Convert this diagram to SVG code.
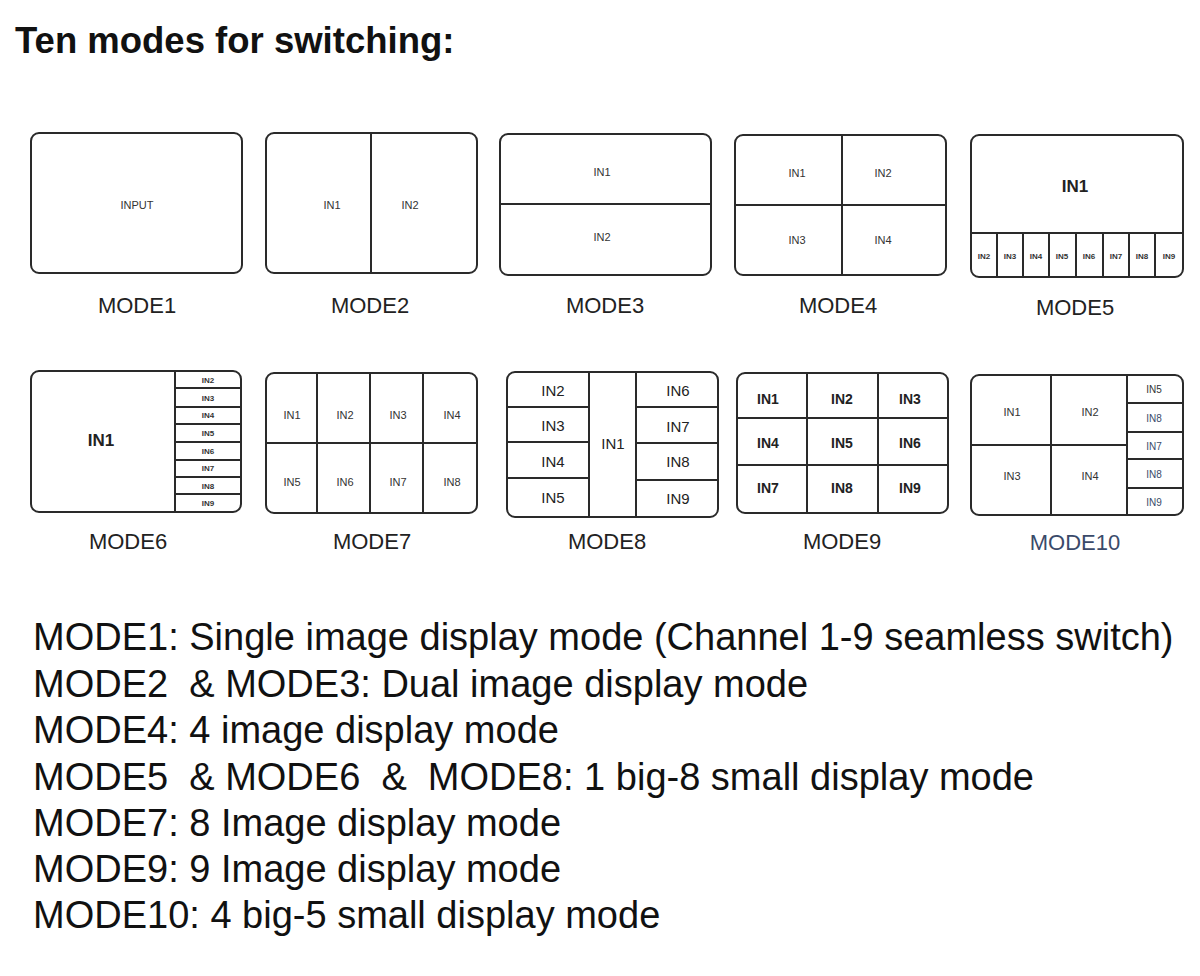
<svg xmlns="http://www.w3.org/2000/svg" width="1200" height="976" viewBox="0 0 1200 976">
<style>
text{font-family:"Liberation Sans",Arial,sans-serif;fill:#111}
.frame{fill:#fff;stroke:#2a2a2a;stroke-width:2}
.div{stroke:#2a2a2a;stroke-width:2;fill:none}
.t{font-size:11px;text-anchor:middle;dominant-baseline:central;fill:#333}
.tiny{font-size:8px;text-anchor:middle;dominant-baseline:central;fill:#333;font-weight:bold}
.mid{font-size:15px;text-anchor:middle;dominant-baseline:central;fill:#222}
.big{font-size:17px;text-anchor:middle;dominant-baseline:central;fill:#222;font-weight:bold}
.lbl{font-size:22px;text-anchor:middle;fill:#222}
.body{font-size:38px;fill:#111;white-space:pre}
.title{font-size:36.5px;font-weight:bold;fill:#111}
.blue{fill:#3a4a6a}
</style>
<rect width="1200" height="976" fill="#fff"/>
<text class="title" x="15" y="53">Ten modes for switching:</text>

<g id="mode1">
<rect class="frame" x="31" y="133" width="211" height="140" rx="8"/>
<text class="t" x="137" y="205">INPUT</text>
<text class="lbl" x="137" y="313">MODE1</text>
</g>

<g id="mode2">
<rect class="frame" x="266" y="133" width="211" height="140" rx="8"/>
<line class="div" x1="371" y1="133" x2="371" y2="273"/>
<text class="t" x="332" y="205">IN1</text>
<text class="t" x="410" y="205">IN2</text>
<text class="lbl" x="370" y="313">MODE2</text>
</g>

<g id="mode3">
<rect class="frame" x="500" y="134" width="211" height="141" rx="8"/>
<line class="div" x1="500" y1="204" x2="711" y2="204"/>
<text class="t" x="602" y="172">IN1</text>
<text class="t" x="602" y="237">IN2</text>
<text class="lbl" x="605" y="313">MODE3</text>
</g>

<g id="mode4">
<rect class="frame" x="735" y="135" width="211" height="140" rx="8"/>
<line class="div" x1="842" y1="135" x2="842" y2="275"/>
<line class="div" x1="735" y1="205" x2="946" y2="205"/>
<text class="t" x="797" y="173">IN1</text>
<text class="t" x="883" y="173">IN2</text>
<text class="t" x="797" y="240">IN3</text>
<text class="t" x="883" y="240">IN4</text>
<text class="lbl" x="838" y="313">MODE4</text>
</g>

<g id="mode5">
<rect class="frame" x="971" y="135" width="212" height="142" rx="8"/>
<line class="div" x1="971" y1="233" x2="1183" y2="233"/>
<line class="div" x1="997" y1="233" x2="997" y2="277"/>
<line class="div" x1="1023" y1="233" x2="1023" y2="277"/>
<line class="div" x1="1049" y1="233" x2="1049" y2="277"/>
<line class="div" x1="1076" y1="233" x2="1076" y2="277"/>
<line class="div" x1="1103" y1="233" x2="1103" y2="277"/>
<line class="div" x1="1129" y1="233" x2="1129" y2="277"/>
<line class="div" x1="1155" y1="233" x2="1155" y2="277"/>
<text class="big" x="1075" y="186">IN1</text>
<text class="tiny" x="984" y="256">IN2</text>
<text class="tiny" x="1010" y="256">IN3</text>
<text class="tiny" x="1036" y="256">IN4</text>
<text class="tiny" x="1062" y="256">IN5</text>
<text class="tiny" x="1089" y="256">IN6</text>
<text class="tiny" x="1116" y="256">IN7</text>
<text class="tiny" x="1142" y="256">IN8</text>
<text class="tiny" x="1169" y="256">IN9</text>
<text class="lbl" x="1075" y="315">MODE5</text>
</g>

<g id="mode6">
<rect class="frame" x="31" y="371" width="210" height="141" rx="8"/>
<line class="div" x1="175" y1="371" x2="175" y2="512"/>
<line class="div" x1="175" y1="388" x2="241" y2="388"/>
<line class="div" x1="175" y1="407" x2="241" y2="407"/>
<line class="div" x1="175" y1="424" x2="241" y2="424"/>
<line class="div" x1="175" y1="442" x2="241" y2="442"/>
<line class="div" x1="175" y1="460" x2="241" y2="460"/>
<line class="div" x1="175" y1="477" x2="241" y2="477"/>
<line class="div" x1="175" y1="494" x2="241" y2="494"/>
<text class="big" x="101" y="440">IN1</text>
<text class="tiny" x="208" y="380">IN2</text>
<text class="tiny" x="208" y="398">IN3</text>
<text class="tiny" x="208" y="415">IN4</text>
<text class="tiny" x="208" y="433">IN5</text>
<text class="tiny" x="208" y="451">IN6</text>
<text class="tiny" x="208" y="468">IN7</text>
<text class="tiny" x="208" y="486">IN8</text>
<text class="tiny" x="208" y="503">IN9</text>
<text class="lbl" x="128" y="549">MODE6</text>
</g>

<g id="mode7">
<rect class="frame" x="266" y="373" width="211" height="140" rx="8"/>
<line class="div" x1="317" y1="373" x2="317" y2="513"/>
<line class="div" x1="370" y1="373" x2="370" y2="513"/>
<line class="div" x1="423" y1="373" x2="423" y2="513"/>
<line class="div" x1="266" y1="443" x2="477" y2="443"/>
<text class="t" x="292" y="415">IN1</text>
<text class="t" x="345" y="415">IN2</text>
<text class="t" x="398" y="415">IN3</text>
<text class="t" x="452" y="415">IN4</text>
<text class="t" x="292" y="482">IN5</text>
<text class="t" x="345" y="482">IN6</text>
<text class="t" x="398" y="482">IN7</text>
<text class="t" x="452" y="482">IN8</text>
<text class="lbl" x="372" y="549">MODE7</text>
</g>

<g id="mode8">
<rect class="frame" x="507" y="372" width="211" height="145" rx="8"/>
<line class="div" x1="589" y1="372" x2="589" y2="517"/>
<line class="div" x1="636" y1="372" x2="636" y2="517"/>
<line class="div" x1="507" y1="407" x2="589" y2="407"/>
<line class="div" x1="507" y1="442" x2="589" y2="442"/>
<line class="div" x1="507" y1="478" x2="589" y2="478"/>
<line class="div" x1="636" y1="407" x2="718" y2="407"/>
<line class="div" x1="636" y1="443" x2="718" y2="443"/>
<line class="div" x1="636" y1="480" x2="718" y2="480"/>
<text class="mid" x="553" y="390">IN2</text>
<text class="mid" x="553" y="425">IN3</text>
<text class="mid" x="553" y="461">IN4</text>
<text class="mid" x="553" y="497">IN5</text>
<text class="mid" x="613" y="443">IN1</text>
<text class="mid" x="678" y="390">IN6</text>
<text class="mid" x="678" y="426">IN7</text>
<text class="mid" x="678" y="461">IN8</text>
<text class="mid" x="678" y="498">IN9</text>
<text class="lbl" x="607" y="549">MODE8</text>
</g>

<g id="mode9">
<rect class="frame" x="737" y="373" width="211" height="140" rx="8"/>
<line class="div" x1="807" y1="373" x2="807" y2="513"/>
<line class="div" x1="878" y1="373" x2="878" y2="513"/>
<line class="div" x1="737" y1="418" x2="948" y2="418"/>
<line class="div" x1="737" y1="465" x2="948" y2="465"/>
<text class="mid" x="768" y="399" style="font-size:14px;font-weight:bold">IN1</text>
<text class="mid" x="842" y="399" style="font-size:14px;font-weight:bold">IN2</text>
<text class="mid" x="910" y="399" style="font-size:14px;font-weight:bold">IN3</text>
<text class="mid" x="768" y="443" style="font-size:14px;font-weight:bold">IN4</text>
<text class="mid" x="842" y="443" style="font-size:14px;font-weight:bold">IN5</text>
<text class="mid" x="910" y="443" style="font-size:14px;font-weight:bold">IN6</text>
<text class="mid" x="768" y="488" style="font-size:14px;font-weight:bold">IN7</text>
<text class="mid" x="842" y="488" style="font-size:14px;font-weight:bold">IN8</text>
<text class="mid" x="910" y="488" style="font-size:14px;font-weight:bold">IN9</text>
<text class="lbl" x="842" y="549">MODE9</text>
</g>

<g id="mode10">
<rect class="frame" x="971" y="375" width="212" height="140" rx="8"/>
<line class="div" x1="1051" y1="375" x2="1051" y2="515"/>
<line class="div" x1="1127" y1="375" x2="1127" y2="515"/>
<line class="div" x1="971" y1="445" x2="1127" y2="445"/>
<line class="div" x1="1127" y1="403" x2="1183" y2="403"/>
<line class="div" x1="1127" y1="432" x2="1183" y2="432"/>
<line class="div" x1="1127" y1="459" x2="1183" y2="459"/>
<line class="div" x1="1127" y1="488" x2="1183" y2="488"/>
<text class="t" x="1012" y="412">IN1</text>
<text class="t" x="1090" y="412">IN2</text>
<text class="t" x="1012" y="476">IN3</text>
<text class="t" x="1090" y="476">IN4</text>
<text class="t" x="1154" y="389" style="font-size:10px">IN5</text>
<text class="t blue" x="1154" y="418" style="font-size:10px">IN8</text>
<text class="t blue" x="1154" y="446" style="font-size:10px">IN7</text>
<text class="t blue" x="1154" y="474" style="font-size:10px">IN8</text>
<text class="t blue" x="1154" y="502" style="font-size:10px">IN9</text>
<text class="lbl blue" x="1075" y="550">MODE10</text>
</g>

<g id="description">
<text class="body" x="33" y="650">MODE1: Single image display mode (Channel 1-9 seamless switch)</text>
<text class="body" x="33" y="697">MODE2  &amp; MODE3: Dual image display mode</text>
<text class="body" x="33" y="743">MODE4: 4 image display mode</text>
<text class="body" x="33" y="790">MODE5  &amp; MODE6  &amp;  MODE8: 1 big-8 small display mode</text>
<text class="body" x="33" y="836">MODE7: 8 Image display mode</text>
<text class="body" x="33" y="882">MODE9: 9 Image display mode</text>
<text class="body" x="33" y="928">MODE10: 4 big-5 small display mode</text>
</g>
</svg>
